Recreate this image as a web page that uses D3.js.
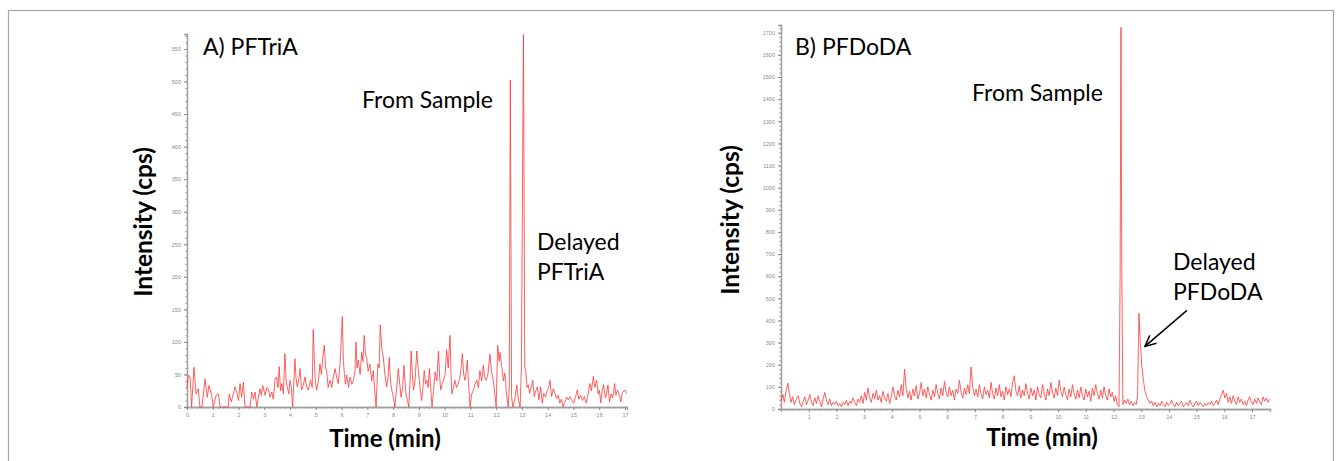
<!DOCTYPE html>
<html>
<head>
<meta charset="utf-8">
<script src="https://cdn.jsdelivr.net/npm/d3@7"></script>
<style>
  body { margin: 0; background: #fff; }
  text { font-family: Lato, "Open Sans", sans-serif; }
  .tick text { font-family: "Liberation Sans", sans-serif; }
</style>
</head>
<body>
<div id="chart"></div>
<script>
// ---- data ----
var leftTime = [0.00,0.05,0.12,0.18,0.27,0.35,0.44,0.50,0.58,0.70,0.79,0.85,0.96,1.02,1.13,1.22,1.28,1.60,1.64,1.72,1.80,1.86,1.93,2.00,2.06,2.12,2.19,2.25,2.45,2.51,2.58,2.64,2.71,2.77,2.83,2.88,2.94,3.03,3.10,3.16,3.22,3.29,3.35,3.42,3.48,3.53,3.58,3.63,3.68,3.74,3.80,3.85,3.89,3.95,4.00,4.05,4.10,4.19,4.23,4.28,4.33,4.39,4.45,4.52,4.58,4.65,4.71,4.76,4.80,4.86,4.90,4.97,5.03,5.10,5.16,5.22,5.27,5.33,5.38,5.42,5.48,5.55,5.62,5.68,5.75,5.81,5.87,5.94,6.03,6.07,6.11,6.15,6.20,6.27,6.33,6.40,6.46,6.52,6.56,6.60,6.65,6.72,6.78,6.83,6.88,6.93,6.97,7.03,7.10,7.17,7.23,7.28,7.34,7.41,7.46,7.50,7.56,7.62,7.68,7.75,7.80,7.85,7.90,7.95,8.01,8.07,8.14,8.20,8.26,8.31,8.37,8.42,8.46,8.50,8.56,8.61,8.66,8.70,8.75,8.79,8.85,8.92,8.97,9.02,9.06,9.11,9.16,9.21,9.26,9.31,9.36,9.41,9.46,9.51,9.57,9.63,9.70,9.76,9.81,9.85,9.90,9.95,10.02,10.08,10.14,10.21,10.25,10.28,10.34,10.40,10.46,10.52,10.57,10.63,10.69,10.74,10.79,10.84,10.88,10.94,10.99,11.05,11.12,11.18,11.25,11.31,11.37,11.44,11.50,11.56,11.61,11.68,11.76,11.82,11.89,11.95,12.00,12.06,12.12,12.15,12.22,12.28,12.34,12.40,12.47,12.51,12.55,12.60,12.65,12.72,12.80,12.87,12.93,12.98,13.06,13.11,13.15,13.20,13.25,13.30,13.36,13.42,13.48,13.54,13.60,13.66,13.73,13.79,13.85,13.92,13.98,14.04,14.09,14.15,14.22,14.28,14.35,14.41,14.47,14.53,14.60,14.67,14.74,14.80,14.87,14.94,15.01,15.08,15.15,15.21,15.28,15.35,15.42,15.50,15.57,15.64,15.70,15.77,15.83,15.90,15.96,16.01,16.06,16.12,16.17,16.24,16.29,16.34,16.40,16.46,16.53,16.60,16.65,16.71,16.77,16.84,16.90,17.00,17.07];
var leftIntensity = [30,49,46,0,61,20,28,0,0,43,15,33,18,0,18,20,0,0,20,8,20,31,23,10,36,15,38,0,0,23,12,23,0,15,28,18,33,18,30,28,15,23,12,43,46,30,62,25,36,20,82,40,31,20,41,30,0,74,45,31,40,59,26,35,46,30,26,35,41,30,119,46,26,40,66,50,77,95,60,56,30,41,30,46,59,45,36,64,139,70,51,35,49,30,46,35,41,55,100,60,72,50,84,70,110,80,77,55,66,40,56,30,0,66,60,126,90,77,50,31,45,76,40,26,15,0,30,59,35,15,30,64,40,20,10,0,40,86,50,26,40,86,60,41,25,10,30,56,35,41,30,59,30,0,25,54,40,86,45,26,35,41,50,88,60,110,50,20,30,41,30,35,41,55,82,50,41,55,72,30,0,20,26,35,41,30,56,40,64,45,41,50,81,55,41,20,0,95,70,84,62,40,52,20,0,31,502,16,0,10,34,10,0,57,572,60,57,30,34,21,30,41,16,25,31,11,31,6,21,15,25,30,41,16,28,21,13,18,6,12,0,8,15,11,16,10,6,15,26,12,18,10,16,6,20,36,25,47,30,41,20,26,6,25,34,14,20,34,8,20,14,36,18,26,20,8,22,26,21];

var rightTime = [0.00,0.07,0.12,0.18,0.25,0.30,0.36,0.42,0.48,0.55,0.62,0.68,0.74,0.80,0.86,0.92,0.98,1.04,1.10,1.16,1.22,1.28,1.34,1.40,1.46,1.52,1.58,1.64,1.70,1.76,1.82,1.88,1.94,2.00,2.06,2.12,2.18,2.24,2.30,2.36,2.42,2.48,2.54,2.60,2.66,2.72,2.78,2.84,2.90,2.96,3.02,3.08,3.14,3.20,3.26,3.32,3.38,3.44,3.50,3.56,3.62,3.68,3.74,3.80,3.86,3.92,3.98,4.04,4.10,4.16,4.22,4.28,4.34,4.40,4.46,4.52,4.58,4.64,4.70,4.76,4.82,4.88,4.94,5.00,5.06,5.12,5.18,5.24,5.30,5.36,5.42,5.48,5.54,5.60,5.66,5.72,5.78,5.84,5.90,5.96,6.02,6.08,6.14,6.20,6.26,6.32,6.38,6.44,6.50,6.56,6.62,6.68,6.74,6.80,6.86,6.92,6.98,7.04,7.10,7.16,7.22,7.28,7.34,7.40,7.46,7.52,7.58,7.64,7.70,7.76,7.82,7.88,7.94,8.00,8.06,8.12,8.18,8.24,8.30,8.36,8.42,8.48,8.54,8.60,8.66,8.72,8.78,8.84,8.90,8.96,9.02,9.08,9.14,9.20,9.26,9.32,9.38,9.44,9.50,9.56,9.62,9.68,9.74,9.80,9.86,9.92,9.98,10.04,10.10,10.16,10.22,10.28,10.34,10.40,10.46,10.52,10.58,10.64,10.70,10.76,10.82,10.88,10.94,11.00,11.06,11.12,11.18,11.24,11.30,11.36,11.42,11.48,11.54,11.60,11.66,11.72,11.78,11.84,11.90,11.96,12.02,12.08,12.14,12.20,12.24,12.27,12.30,12.34,12.40,12.46,12.52,12.58,12.64,12.70,12.76,12.82,12.87,12.92,12.97,13.02,13.08,13.14,13.20,13.26,13.32,13.38,13.44,13.50,13.56,13.62,13.68,13.74,13.80,13.86,13.92,13.98,14.04,14.10,14.16,14.22,14.28,14.34,14.40,14.46,14.52,14.58,14.64,14.70,14.76,14.82,14.88,14.94,15.00,15.06,15.12,15.18,15.24,15.30,15.36,15.42,15.48,15.54,15.60,15.66,15.72,15.78,15.84,15.90,15.96,16.02,16.08,16.14,16.20,16.26,16.32,16.38,16.44,16.50,16.56,16.62,16.68,16.74,16.80,16.86,16.92,16.98,17.04,17.10,17.16,17.22,17.28,17.34,17.40,17.46,17.52,17.58,17.65];
var rightIntensity = [40,65,30,80,117,70,30,55,20,45,60,25,10,35,55,20,40,65,30,15,50,25,60,35,10,45,75,40,20,45,15,30,20,35,15,25,10,30,20,40,15,35,25,50,30,15,45,30,60,25,75,40,95,50,30,70,45,85,40,60,30,80,50,35,70,25,55,100,60,40,85,55,110,60,180,90,50,80,40,90,60,105,45,70,120,60,90,50,100,65,40,85,55,110,70,45,95,60,125,75,55,100,60,85,40,90,70,130,75,50,95,65,110,70,190,100,60,90,55,110,70,45,100,65,85,50,120,70,45,95,60,110,55,80,40,100,65,90,55,120,150,80,60,105,50,85,60,115,70,45,95,60,85,40,100,65,50,110,70,40,90,60,120,75,50,95,60,130,80,55,100,65,40,90,55,110,70,45,85,50,100,60,40,90,55,80,35,95,60,110,70,45,85,50,100,60,40,90,55,75,35,60,20,10,600,1725,650,20,40,25,45,20,35,15,30,20,60,432,300,200,130,80,55,40,25,35,15,30,10,25,15,35,20,10,30,15,25,40,20,10,30,15,25,35,10,20,30,15,40,20,10,25,35,15,30,20,10,25,15,30,20,35,15,25,40,20,45,65,85,50,70,30,55,25,60,35,20,55,30,45,20,35,15,40,55,30,20,45,25,50,30,20,55,35,50,30,45];

var leftYTicks = [0,50,100,150,200,250,300,350,400,450,500,550];
var rightYTicks = [0,100,200,300,400,500,600,700,800,900,1000,1100,1200,1300,1400,1500,1600,1700];
var leftXTicks = [0,1,2,3,4,5,6,7,8,9,10,11,12,13,14,15,16,17];
var rightXTicks = [1,2,3,4,5,6,7,8,9,10,11,12,13,14,15,16,17];

var width = 1341, height = 461;

var svg = d3.select("#chart")
    .append("svg")
    .attr("width", width)
    .attr("height", height)

// outer frame
svg.append("rect")
    .attr("x", 8.5).attr("y", 10.5)
    .attr("width", 1325).attr("height", 470)
    .attr("fill", "none")
    .attr("stroke", "#a6a6a6")
    .attr("stroke-width", 1.2)

function panel(opt) {
    var x = d3.scaleLinear().domain(opt.xDomain).range(opt.xRange)
    var y = d3.scaleLinear().domain(opt.yDomain).range(opt.yRange)
    var g = svg.append("g")

    // minor ticks
    g.append("g")
        .attr("transform", "translate(" + opt.xRange[0] + ",0)")
        .call(d3.axisLeft(y).tickValues(d3.range(0, opt.yDomain[1], opt.yMinor)).tickSize(1.5).tickFormat(""))
    g.append("g")
        .attr("transform", "translate(0," + opt.yRange[0] + ")")
        .call(d3.axisBottom(x).tickValues(d3.range(0, opt.xDomain[1], 0.2)).tickSize(1.5).tickFormat(""))

    // major ticks
    g.append("g")
        .attr("transform", "translate(" + opt.xRange[0] + ",0)")
        .call(d3.axisLeft(y).tickValues(opt.yTicks).tickSize(3).tickPadding(3).tickFormat(d3.format("d")))
    g.append("g")
        .attr("transform", "translate(0," + opt.yRange[0] + ")")
        .call(d3.axisBottom(x).tickValues(opt.xTicks).tickSize(3).tickPadding(3).tickFormat(d3.format("d")))

    g.selectAll(".domain").attr("stroke", "#a0a0a0").attr("stroke-width", 1.3)
    g.selectAll(".tick line").attr("stroke", "#888")
    g.selectAll(".tick text").attr("fill", "#8a8a8a").attr("font-size", "5.5px")

    var pts = opt.time.map(function(t, i) { return [t, opt.values[i]] })
    var line = d3.line()
        .x(function(d) { return x(d[0]) })
        .y(function(d) { return y(d[1]) })

    g.append("path")
        .datum(pts)
        .attr("d", line)
        .attr("fill", "none")
        .attr("stroke", "#ff3838")
        .attr("stroke-width", 1)
        .attr("stroke-linejoin", "round")
        .attr("opacity", 0.8)

    // axis titles
    g.append("text")
        .attr("transform", "translate(" + opt.yTitle[0] + "," + opt.yTitle[1] + ") rotate(-90)")
        .attr("text-anchor", "middle")
        .attr("font-size", "24.5px")
        .attr("font-weight", "bold")
        .text("Intensity (cps)")
    g.append("text")
        .attr("x", opt.xTitle[0]).attr("y", opt.xTitle[1])
        .attr("text-anchor", "middle")
        .attr("font-size", "24px")
        .attr("font-weight", "bold")
        .text("Time (min)")

    opt.labels.forEach(function(l) {
        g.append("text")
            .attr("x", l[0]).attr("y", l[1])
            .attr("font-size", "23px")
            .text(l[2])
    })
    return { x: x, y: y, g: g }
}

panel({
    time: leftTime, values: leftIntensity,
    xDomain: [0, 17.08], xRange: [187, 627],
    yDomain: [0, 573], yRange: [407, 34],
    yTicks: leftYTicks, xTicks: leftXTicks, yMinor: 10,
    yTitle: [152, 222], xTitle: [385, 447],
    labels: [[203, 55, "A) PFTriA"], [362, 108, "From Sample"], [537, 250, "Delayed"], [537, 280, "PFTriA"]]
})

var right = panel({
    time: rightTime, values: rightIntensity,
    xDomain: [0, 17.65], xRange: [781, 1270],
    yDomain: [0, 1735], yRange: [409, 25],
    yTicks: rightYTicks, xTicks: rightXTicks, yMinor: 20,
    yTitle: [739, 220], xTitle: [1042, 446],
    labels: [[795, 55, "B) PFDoDA"], [972, 101, "From Sample"], [1173, 270, "Delayed"], [1173, 300, "PFDoDA"]]
})

// arrow to the delayed PFDoDA peak
var ax = right.x(12.92) + 6, ay = right.y(432) + 33
var bx = ax + 42, by = ay - 36
var ang = Math.atan2(by - ay, bx - ax)
right.g.append("line")
    .attr("x1", bx).attr("y1", by).attr("x2", ax).attr("y2", ay)
    .attr("stroke", "#000").attr("stroke-width", 1.5)
right.g.append("path")
    .attr("d", "M" + (ax + 12 * Math.cos(ang + 0.45)) + "," + (ay + 12 * Math.sin(ang + 0.45)) +
        "L" + ax + "," + ay +
        "L" + (ax + 12 * Math.cos(ang - 0.45)) + "," + (ay + 12 * Math.sin(ang - 0.45)))
    .attr("fill", "none").attr("stroke", "#000").attr("stroke-width", 1.5)
</script>
</body>
</html>
